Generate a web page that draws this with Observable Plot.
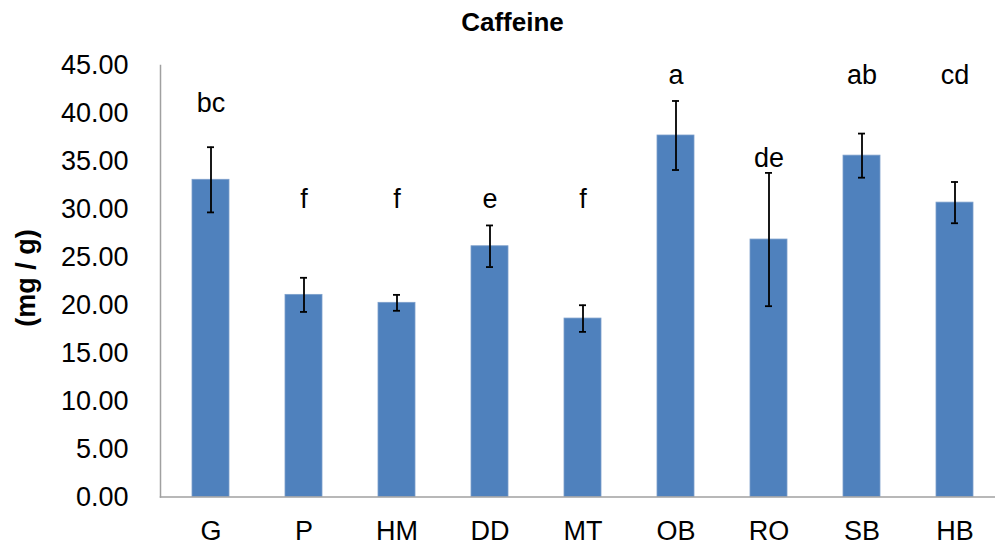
<!DOCTYPE html>
<html>
<head>
<meta charset="utf-8">
<script src="https://cdn.jsdelivr.net/npm/d3@7"></script>
<script src="https://cdn.jsdelivr.net/npm/@observablehq/plot@0.6"></script>
<style>
  html, body { margin: 0; padding: 0; background: #fff; }
  #wrap { width: 995px; height: 547px; overflow: hidden; position: relative; font-family: "Liberation Sans", Arial, sans-serif; }
  #title { height: 44px; line-height: 44px; font-size: 26px; font-weight: bold; text-align: center; padding-left: 30px; color: #000; }
  #ylab { position: absolute; left: 26px; top: 278px; transform: translate(-50%, -50%) rotate(-90deg); font-size: 27px; font-weight: bold; white-space: nowrap; }
</style>
</head>
<body>
<div id="wrap">
  <div id="title">Caffeine</div>
  <div id="chart"></div>
  <div id="ylab">(mg / g)</div>
</div>
<script>
const categories = ["G", "P", "HM", "DD", "MT", "OB", "RO", "SB", "HB"];
const values     = [33.08, 21.08, 20.25, 26.15, 18.61, 37.70, 26.85, 35.60, 30.70];
const errors     = [3.40, 1.78, 0.83, 2.17, 1.39, 3.60, 6.95, 2.30, 2.15];
const letters    = ["bc", "f", "f", "e", "f", "a", "de", "ab", "cd"];
const letterY    = [40.13, 30.16, 30.16, 30.16, 30.16, 43.02, 34.39, 43.02, 43.02];
const yTicks     = [0, 5, 10, 15, 20, 25, 30, 35, 40, 45];

const data = categories.map((c, i) => ({
  cat: c, value: values[i], lo: values[i] - errors[i], hi: values[i] + errors[i],
  letter: letters[i], ly: letterY[i]
}));

const chart = Plot.plot({
  width: 995,
  height: 503,
  marginTop: 21,
  marginBottom: 50.5,
  marginLeft: 160,
  marginRight: -10,
  style: { fontFamily: "'Liberation Sans', Arial, sans-serif", background: "#fff", color: "#000" },
  x: { domain: categories, paddingInner: 0.6, paddingOuter: 0.3, label: null },
  y: { domain: [0, 45], label: null },
  marks: [
    Plot.barY(data, { x: "cat", y: "value", fill: "#4F81BD", stroke: "#7C9FCB", strokeWidth: 0.8 }),
    Plot.frame({ anchor: "left", stroke: "#a0a0a0", strokeWidth: 1.5 }),
    Plot.frame({ anchor: "bottom", stroke: "#a0a0a0", strokeWidth: 1.5 }),
    Plot.ruleX(data, { x: "cat", y1: "lo", y2: "hi", stroke: "#000", strokeWidth: 1.8 }),
    Plot.tickY(data, { x: "cat", y: "lo", stroke: "#000", strokeWidth: 1.8, insetLeft: 15, insetRight: 15 }),
    Plot.tickY(data, { x: "cat", y: "hi", stroke: "#000", strokeWidth: 1.8, insetLeft: 15, insetRight: 15 }),
    Plot.text(data, { x: "cat", y: "ly", text: "letter", fontSize: 27, lineAnchor: "bottom", fill: "#000" }),
    Plot.axisY(yTicks, { tickSize: 0, tickPadding: 32, fontSize: 27, tickFormat: d => d.toFixed(2), label: null }),
    Plot.axisX({ tickSize: 0, tickPadding: 24, fontSize: 27, label: null })
  ]
});
document.getElementById("chart").appendChild(chart);
</script>
</body>
</html>
